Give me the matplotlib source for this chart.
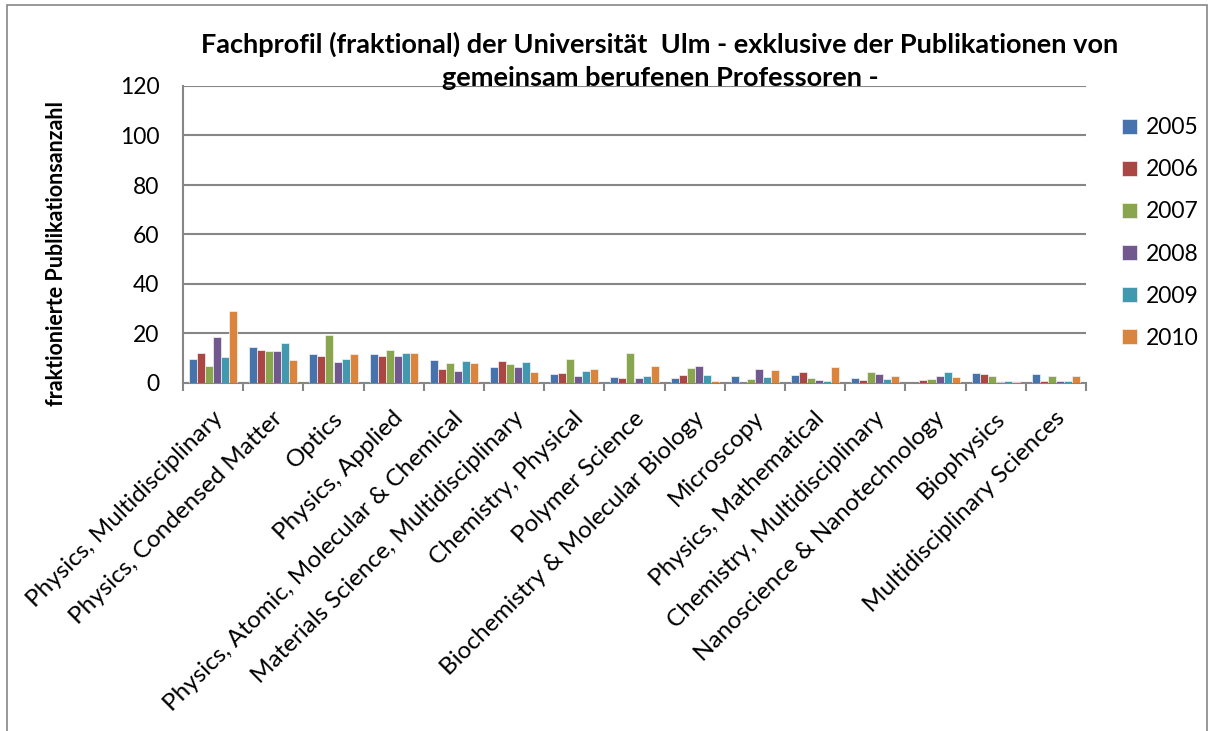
import matplotlib
matplotlib.use("Agg")
import matplotlib.pyplot as plt
import matplotlib.transforms as mtransforms
import numpy as np
from matplotlib.patches import Rectangle

categories = ["Physics, Multidisciplinary", "Physics, Condensed Matter", "Optics",
              "Physics, Applied", "Physics, Atomic, Molecular & Chemical",
              "Materials Science, Multidisciplinary", "Chemistry, Physical",
              "Polymer Science", "Biochemistry & Molecular Biology", "Microscopy",
              "Physics, Mathematical", "Chemistry, Multidisciplinary",
              "Nanoscience & Nanotechnology", "Biophysics", "Multidisciplinary Sciences"]
years = ["2005", "2006", "2007", "2008", "2009", "2010"]
v2005 = [9.6, 14.7, 11.9, 11.8, 9.3, 6.4, 3.6, 2.3, 2.0, 2.8, 3.1, 2.0, 0.0, 4.2, 3.6]
v2006 = [12.3, 13.4, 10.8, 10.8, 5.7, 8.9, 4.1, 1.9, 3.1, 0.0, 4.3, 1.3, 1.1, 3.6, 0.8]
v2007 = [6.9, 12.8, 19.3, 13.2, 8.0, 7.6, 9.6, 12.2, 6.1, 1.7, 2.0, 4.5, 1.7, 2.7, 2.7]
v2008 = [18.6, 13.0, 8.5, 11.1, 4.7, 6.6, 2.7, 2.0, 6.9, 5.8, 1.3, 3.6, 2.7, 0.5, 0.7]
v2009 = [10.5, 16.1, 9.6, 12.3, 8.9, 8.5, 4.9, 2.8, 3.1, 2.6, 0.8, 1.6, 4.3, 0.8, 0.8]
v2010 = [28.9, 9.2, 11.8, 12.0, 8.0, 4.6, 5.7, 7.0, 0.9, 5.3, 6.5, 2.7, 2.4, 0.4, 2.7]
series = [v2005, v2006, v2007, v2008, v2009, v2010]
colors = ["#4673AC", "#AA4643", "#89A54E", "#71588F", "#4198AF", "#DB843D"]
yticks = [0, 20, 40, 60, 80, 100, 120]

FONT = ["Lato", "DejaVu Sans"]
plt.rcParams['font.family'] = FONT

W, H = 1213, 731
fig = plt.figure(figsize=(W / 100, H / 100), dpi=100)
ax = fig.add_axes([183 / W, 1 - 383 / H, (1086 - 183) / W, (383 - 86) / H])

n = len(categories)
x = np.arange(n)
bw = 1 / (6 + 1.5)
for i, (vals, c) in enumerate(zip(series, colors)):
    ax.bar(x - 3 * bw + bw * (i + 0.5), vals, width=bw, color=c,
           edgecolor="#f4f4f4", linewidth=0.5, label=years[i], zorder=3)

ax.set_xlim(-0.5, n - 0.5)
ax.set_ylim(0, 120)
ax.set_yticks(yticks)
ax.set_yticklabels([str(t) for t in yticks], fontsize=16.5)
ax.yaxis.grid(True, color="#868686", linewidth=1.5, zorder=0)
ax.set_axisbelow(True)
for s in ["top", "right"]:
    ax.spines[s].set_visible(False)
for s in ["left", "bottom"]:
    ax.spines[s].set_color("#868686")
    ax.spines[s].set_linewidth(1.5)
ax.tick_params(axis="y", length=0, pad=17)

ax.set_xticks(x)
ax.set_xticklabels(categories, rotation=45, ha="right", va="center",
                   rotation_mode="anchor", fontsize=17.5)
ax.tick_params(axis="x", length=0, pad=23)
offset = mtransforms.ScaledTranslation(6 / 100, 0, fig.dpi_scale_trans)
for lbl in ax.get_xticklabels():
    lbl.set_transform(lbl.get_transform() + offset)
ax.set_xticks(np.arange(n + 1) - 0.5, minor=True)
ax.tick_params(axis="x", which="minor", length=6, width=1.5, color="#868686")

fig.text(57 / W, 1 - 253 / H, "fraktionierte Publikationsanzahl", rotation=90,
         ha="center", va="center", fontsize=15.5, fontweight="bold")

fig.text(660 / W, 1 - 61 / H,
         "Fachprofil (fraktional) der Universität  Ulm - exklusive der Publikationen von\ngemeinsam berufenen Professoren -",
         ha="center", va="center", fontsize=19.5, fontweight="bold",
         linespacing=1.45)

leg = ax.legend(loc="upper left", bbox_to_anchor=(1104 / W, 1 - 99 / H),
                bbox_transform=fig.transFigure, frameon=False, fontsize=16.5,
                handlelength=0.62, handleheight=0.62, labelspacing=0.92,
                handletextpad=0.4, borderpad=0.3)

fig.patches.append(Rectangle((7 / W, -0.01), (1207 - 7) / W, 1 - 5 / H + 0.01,
                             transform=fig.transFigure, fill=False,
                             edgecolor="#868686", linewidth=1.2))

fig.savefig("out.png", dpi=100)
